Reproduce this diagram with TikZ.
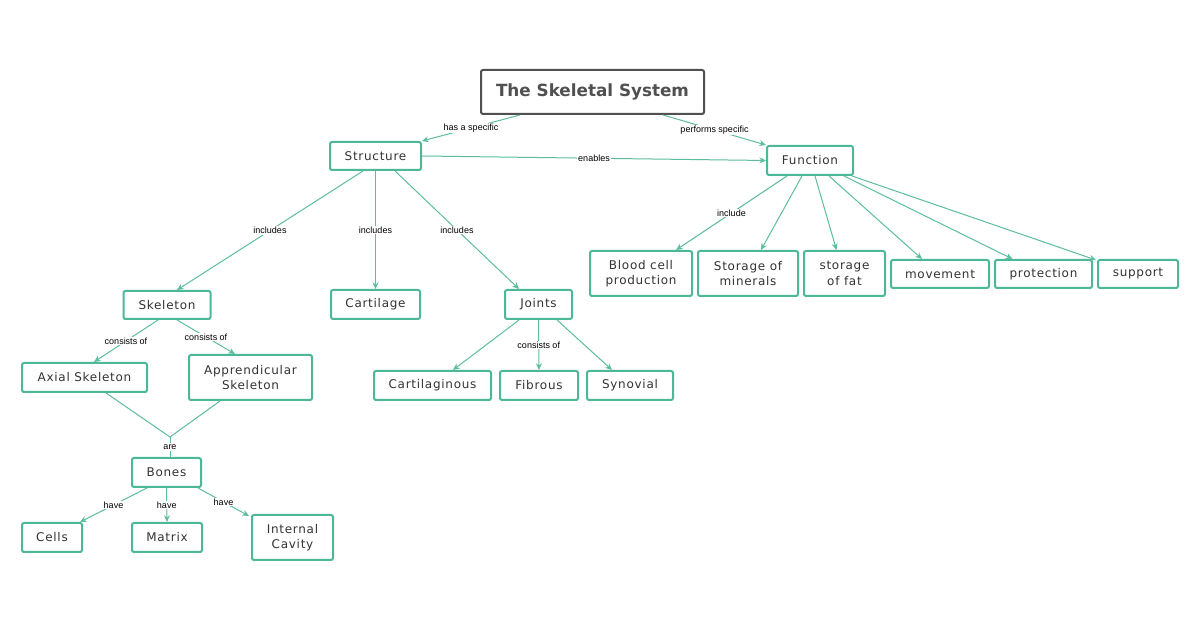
\documentclass[tikz,border=0pt]{standalone}
\usepackage{fontspec}
\setmainfont{DejaVu Sans}
\newfontfamily\nodefont[LetterSpace=6]{DejaVu Sans}
\newfontfamily\lblfont{Liberation Sans}
\usetikzlibrary{arrows.meta,calc}
\definecolor{teal1}{HTML}{4DB898}
\definecolor{edgec}{HTML}{5DBD9F}
\definecolor{txt}{HTML}{333333}
\definecolor{ttl}{HTML}{505050}
\begin{document}
\begin{tikzpicture}[x=0.75pt,y=-0.75pt,
 nbox/.style={draw=teal1, line width=1.5pt, rounded corners=1.5pt, fill=white, text=txt, font=\nodefont\fontsize{9}{11.6}\selectfont, align=center, inner sep=0pt},
 sz/.style 2 args={minimum width=#1*0.75pt, minimum height=#2*0.75pt},
 ttlbox/.style={draw=ttl, line width=1.5pt, rounded corners=1.5pt, fill=white, text=ttl, font=\bfseries\fontsize{12.6}{15}\selectfont, inner sep=0pt},
 conn/.style={draw=edgec, line width=0.75pt, -{Stealth[length=5pt,width=4.5pt]}},
 plain/.style={draw=edgec, line width=0.75pt},
 lbl/.style={fill=white, inner sep=0.8pt, text=black, font=\lblfont\fontsize{6.75}{8}\selectfont}]
\useasboundingbox[fill=white] (0,0) rectangle (1200,630);

\node[ttlbox, sz={223}{44}] (title) at (592.5,92) {The Skeletal System};
\node[nbox, sz={91}{28}] (structure) at (375.5,156) {Structure};
\node[nbox, sz={86}{29}] (function) at (810,160.5) {Function};
\node[nbox, sz={87}{28}] (skeleton) at (167,305) {Skeleton};
\node[nbox, sz={89}{29}] (cartilage) at (375.5,304.5) {Cartilage};
\node[nbox, sz={67}{29}] (joints) at (538.5,304.5) {Joints};
\node[nbox, sz={125}{29}] (axial) at (84.5,377.5) {Axial Skeleton};
\node[nbox, sz={123}{45}] (appr) at (250.5,377.5) {Apprendicular\\Skeleton};
\node[nbox, sz={117}{29}] (cartilaginous) at (432.5,385.5) {Cartilaginous};
\node[nbox, sz={78}{29}] (fibrous) at (539,385.5) {Fibrous};
\node[nbox, sz={86}{29}] (synovial) at (630,385.5) {Synovial};
\node[nbox, sz={69}{29}] (bones) at (166.5,472.5) {Bones};
\node[nbox, sz={60}{29}] (cells) at (52,537.5) {Cells};
\node[nbox, sz={70}{29}] (matrix) at (167,537.5) {Matrix};
\node[nbox, sz={81}{45}] (internal) at (292.5,537.5) {Internal\\Cavity};
\node[nbox, sz={102}{45}] (blood) at (641,273.5) {Blood cell\\production};
\node[nbox, sz={100}{45}] (minerals) at (748,273.5) {Storage of\\minerals};
\node[nbox, sz={81}{45}] (fat) at (844.5,273.5) {storage\\of fat};
\node[nbox, sz={98}{28}] (movement) at (940,274) {movement};
\node[nbox, sz={97}{28}] (protection) at (1043.5,274) {protection};
\node[nbox, sz={80}{28}] (support) at (1138,274) {support};

\draw[conn] ($(title.south)+(-72.5,0)$) -- node[lbl]{has a specific} (structure.north east);
\draw[conn] ($(title.south)+(70.5,0)$) -- node[lbl]{performs specific} (function.north west);
\draw[conn] (structure.east) -- node[lbl]{enables} (function.west);

\draw[conn] ($(structure.south)+(-12.5,0)$) -- node[lbl]{includes} ($(skeleton.north)+(10,0)$);
\draw[conn] (structure.south) -- node[lbl]{includes} (cartilage.north);
\draw[conn] ($(structure.south)+(19.5,0)$) -- node[lbl]{includes} ($(joints.north)+(-19.5,0)$);

\draw[conn] ($(function.south)+(-23,0)$) -- node[lbl]{include} ($(blood.north)+(35,0)$);
\draw[conn] ($(function.south)+(-8,0)$) -- ($(minerals.north)+(13,0)$);
\draw[conn] ($(function.south)+(5,0)$) -- ($(fat.north)+(-8,0)$);
\draw[conn] ($(function.south)+(19,0)$) -- ($(movement.north)+(-18,0)$);
\draw[conn] ($(function.south)+(34,0)$) -- ($(protection.north)+(-31,0)$);
\draw[conn] ($(function.south)+(42,0)$) -- ($(support.north west)+(-1,1)$);

\draw[conn] ($(skeleton.south)+(-9,0)$) -- node[lbl]{consists of} ($(axial.north)+(9.5,0)$);
\draw[conn] ($(skeleton.south)+(10,0)$) -- node[lbl]{consists of} ($(appr.north)+(-15.5,0)$);

\coordinate (merge) at (170,437);
\draw[plain] ($(axial.south)+(21.5,0)$) -- (merge);
\draw[plain] ($(appr.south)+(-30.5,0)$) -- (merge);
\draw[plain] (merge) -- node[lbl]{are} (merge |- bones.north);

\draw[conn] ($(joints.south)+(-19.5,0)$) -- ($(cartilaginous.north)+(20.5,0)$);
\draw[conn] (joints.south) -- node[lbl]{consists of} (fibrous.north);
\draw[conn] ($(joints.south)+(18.5,0)$) -- ($(synovial.north)+(-18,0)$);

\draw[conn] ($(bones.south)+(-19.5,0)$) -- node[lbl]{have} ($(cells.north)+(28,0)$);
\draw[conn] (bones.south) -- node[lbl]{have} (matrix.north);
\draw[conn] ($(bones.south)+(31.5,0)$) -- node[lbl]{have} ($(internal.north west)+(-2,2)$);
\end{tikzpicture}
\end{document}
